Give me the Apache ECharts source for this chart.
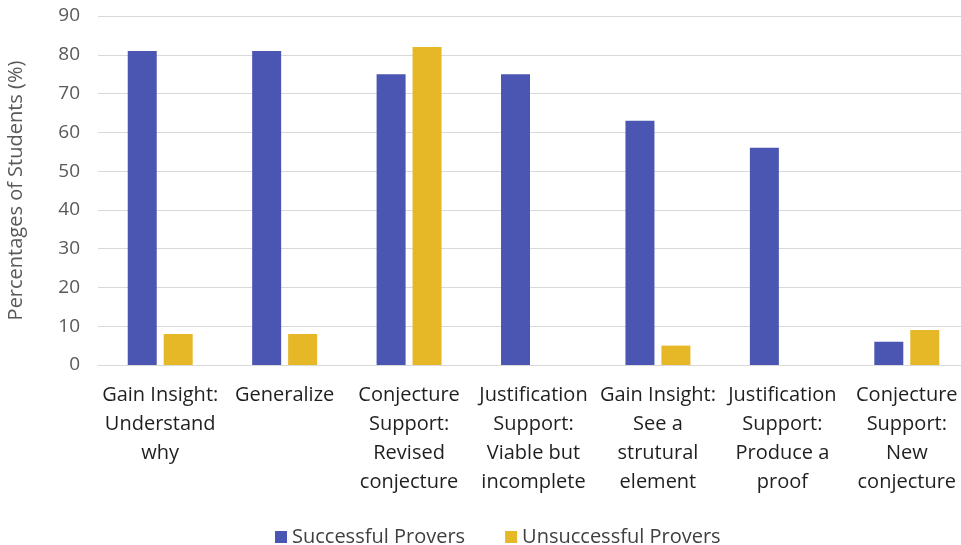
<!DOCTYPE html>
<html>
<head>
<meta charset="utf-8">
<script src="https://cdn.jsdelivr.net/npm/echarts@6/dist/echarts.min.js"></script>
<style>
  html, body { margin: 0; padding: 0; background: #fff; }
  #chart { width: 961px; height: 545px; }
</style>
</head>
<body>
<div id="chart"></div>
<script>
// Category labels, wrapped the way they appear under the axis
const categories = [
  'Gain Insight:\nUnderstand\nwhy',
  'Generalize',
  'Conjecture\nSupport:\nRevised\nconjecture',
  'Justification\nSupport:\nViable but\nincomplete',
  'Gain Insight:\nSee a\nstrutural\nelement',
  'Justification\nSupport:\nProduce a\nproof',
  'Conjecture\nSupport:\nNew\nconjecture'
];
const successfulProvers = [81, 81, 75, 75, 63, 56, 6];
const unsuccessfulProvers = [8, 8, 82, 0, 5, 0, 9];
const yTicks = [0, 10, 20, 30, 40, 50, 60, 70, 80, 90];

const FONT = 'Open Sans';
const chart = echarts.init(document.getElementById('chart'));
chart.setOption({
  animation: false,
  textStyle: { fontFamily: FONT },
  // plot area runs slightly past the right edge of the canvas
  grid: { left: 98, width: 871, top: 16, height: 349, outerBoundsMode: 'none', containLabel: false },
  legend: {
    top: 522,
    left: 270,
    itemWidth: 12,
    itemHeight: 12,
    itemGap: 40,
    icon: 'rect',
    textStyle: { fontFamily: FONT, fontSize: 20, color: '#404040' },
    data: ['Successful Provers', 'Unsuccessful Provers']
  },
  xAxis: {
    type: 'category',
    data: categories,
    axisLine: { show: true, lineStyle: { color: '#d9d9d9', width: 1 } },
    axisTick: { show: false },
    axisLabel: {
      interval: 0,
      margin: 16,
      fontFamily: FONT,
      fontSize: 20,
      lineHeight: 29,
      color: '#1f1f1f',
      align: 'center'
    }
  },
  yAxis: {
    type: 'value',
    min: yTicks[0],
    max: yTicks[yTicks.length - 1],
    interval: 10,
    name: 'Percentages of Students (%)',
    nameLocation: 'middle',
    nameGap: 72,
    nameTextStyle: { fontFamily: FONT, fontSize: 20, color: '#595959' },
    axisLine: { show: false },
    axisTick: { show: false },
    axisLabel: { fontFamily: FONT, fontSize: 19, color: '#595959', margin: 18 },
    splitLine: { lineStyle: { color: '#d9d9d9', width: 1 } }
  },
  series: [
    {
      name: 'Successful Provers',
      type: 'bar',
      data: successfulProvers,
      barWidth: 29,
      barGap: '24%',
      itemStyle: { color: '#4a56b1' }
    },
    {
      name: 'Unsuccessful Provers',
      type: 'bar',
      data: unsuccessfulProvers,
      barWidth: 29,
      itemStyle: { color: '#e6b827' }
    }
  ]
});
</script>
</body>
</html>
